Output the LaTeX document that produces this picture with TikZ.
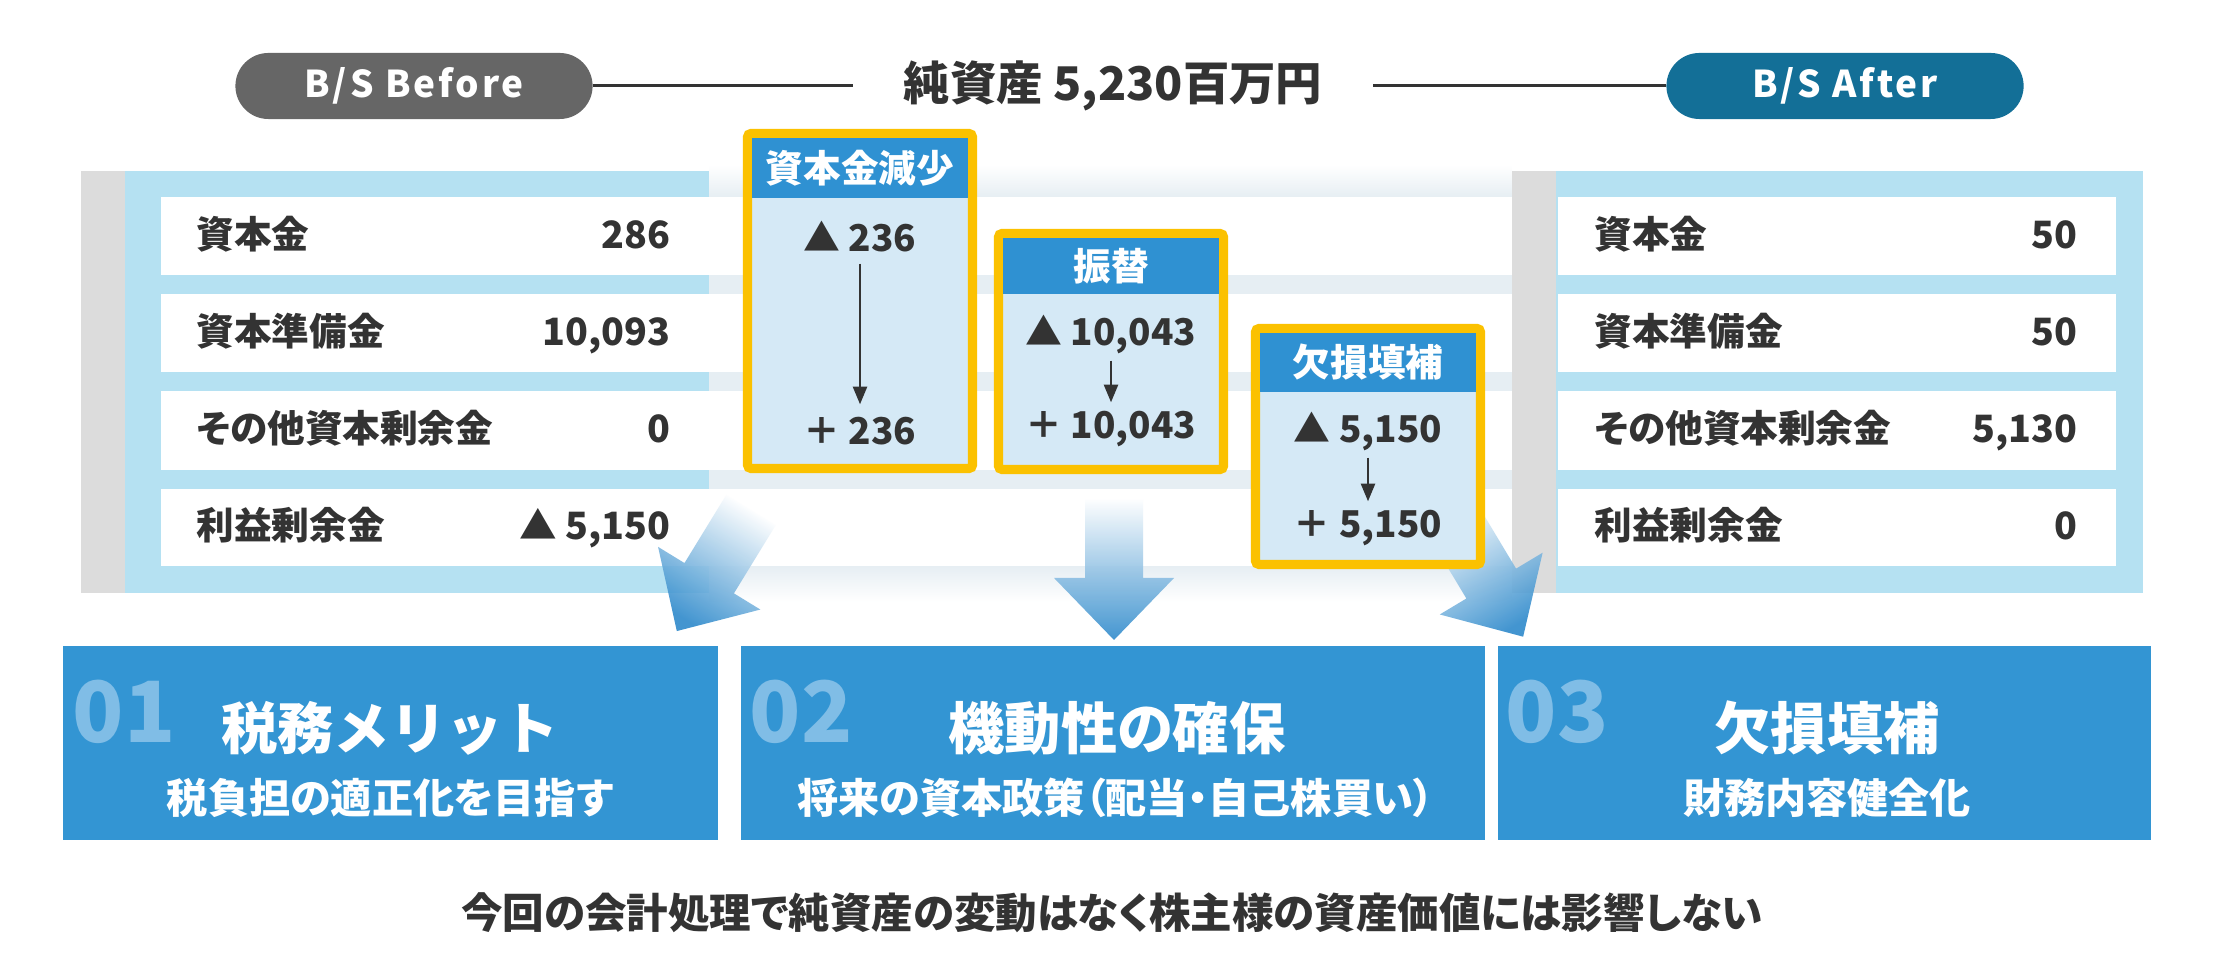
\documentclass[tikz,border=0pt]{standalone}
\usepackage{fontspec}
\setmainfont{Noto Sans CJK JP}[RawFeature=+palt]
\newfontfamily\fullwidth{Noto Sans CJK JP}
\newfontfamily\pillfont{Noto Sans CJK JP}[LetterSpace=8]
\usetikzlibrary{arrows.meta,positioning}

\definecolor{panelblue}{HTML}{B5E1F2}
\definecolor{stripgray}{HTML}{DCDCDC}
\definecolor{midband}{HTML}{E6EEF3}
\definecolor{inktext}{HTML}{333333}
\definecolor{gold}{HTML}{FBC100}
\definecolor{headblue}{HTML}{2F91D2}
\definecolor{bodyblue}{HTML}{D5E9F6}
\definecolor{boxblue}{HTML}{3395D3}
\definecolor{numblue}{HTML}{80BDE6}
\definecolor{pillgray}{HTML}{666666}
\definecolor{pillteal}{HTML}{136F97}
\definecolor{arrowblue}{HTML}{2F8ACB}

\begin{document}
\begin{tikzpicture}[x=0.01cm, y=-0.01cm,
    every node/.style={text=inktext},
    lbl/.style={anchor=base west, inner sep=0pt, font=\fontsize{10.7}{12}\selectfont\bfseries},
    val/.style={anchor=base east, inner sep=0pt, font=\fontsize{10.7}{12}\selectfont\bfseries},
    chghead/.style={text=white, font=\fontsize{10.7}{12}\selectfont\bfseries},
    chgval/.style={inner sep=0pt, minimum height=0.52cm, font=\fontsize{10.5}{12}\selectfont\bfseries},
    flowarrow/.style={draw=inktext, line width=0.6pt, -{Triangle[length=5pt,width=4pt]}},
    pill/.style={rounded corners=0.33cm, minimum width=3.57cm, minimum height=0.66cm, text=white, font=\pillfont\fontsize{10.5}{12}\selectfont\bfseries},
    bigbox/.style={fill=boxblue, inner sep=0pt, minimum height=1.94cm},
    boxnum/.style={text=numblue, font=\fontsize{24}{28}\selectfont\bfseries},
    boxtitle/.style={text=white, font=\fontsize{16}{18}\selectfont\bfseries},
    boxsub/.style={text=white, font=\fontsize{11.7}{14}\selectfont\bfseries}]

    \useasboundingbox (0,0) rectangle (2231,968);

    % header
    \node[pill, fill=pillgray] (before) at (414,86) {B/S Before};
    \node[pill, fill=pillteal] (after) at (1845,86) {B/S After};
    \node[inner xsep=0.5cm, font=\fontsize{13.2}{15}\selectfont\bfseries] (netassets) at (1113,86) {純資産 5,230百万円};
    \draw[inktext, line width=0.85pt] (before) -- (netassets);
    \draw[inktext, line width=0.85pt] (netassets) -- (after);

    % balance sheets
    \fill[stripgray] (81,171) rectangle (125,593);
    \fill[panelblue] (125,171) rectangle (709,593);
    \fill[midband] (709,197) rectangle (1512,566);
    \shade[top color=white, bottom color=midband] (709,165) rectangle (1512,197);
    \shade[top color=midband, bottom color=white] (709,566) rectangle (1512,602);
    \fill[stripgray] (1512,171) rectangle (1556,593);
    \fill[panelblue] (1556,171) rectangle (2143,593);
    \foreach \ya/\yb in {197/275, 294/372, 391/470, 489/566} {
        \fill[white] (161,\ya) rectangle (1512,\yb);
        \fill[white] (1558,\ya) rectangle (2116,\yb);
    }
    \foreach \n/\y/\lab/\old/\new in {1/236/資本金/286/50, 2/333/資本準備金/{10,093}/50,
        3/430/その他資本剰余金/0/{5,130}, 4/527/利益剰余金/{▲ 5,150}/0} {
        \node[lbl] (bl\n) at (196,\y+13) {\lab};
        \node[val] (bv\n) at (671,\y+13) {\old};
        \node[lbl] (al\n) at (1594,\y+13) {\lab};
        \node[val] (av\n) at (2078,\y+13) {\new};
    }

    % big arrows
    \foreach \x/\y/\r/\s in {751/510/238.5/-31.5, 1114/498/270/0, 1450/515/301/31} {
        \shade[top color=white, bottom color=arrowblue, shading angle=\s, opacity=0.9, shift={(\x,\y)}, rotate=\r]
            (0,-29) -- (80,-29) -- (80,-60) -- (142,0) -- (80,60) -- (80,29) -- (0,29) -- cycle;
    }

    % changes
    \filldraw[fill=bodyblue, draw=gold, line width=2.6pt, rounded corners=1pt] (747.5,133.5) rectangle (972.5,468.5);
    \fill[headblue] (752,138) rectangle (968,198);
    \node[chghead] (cut) at (860,168) {資本金減少};
    \node[chgval] (cutfrom) at (860,237) {▲ 236};
    \node[chgval] (cutto) at (860,431) {＋ 236};
    \draw[flowarrow] (cutfrom) -- (cutto);

    \filldraw[fill=bodyblue, draw=gold, line width=2.6pt, rounded corners=1pt] (998.5,233.5) rectangle (1223.5,469.5);
    \fill[headblue] (1003,238) rectangle (1219,294);
    \node[chghead] (swap) at (1111,266) {振替};
    \node[chgval] (swapfrom) at (1111,334) {▲ 10,043};
    \node[chgval] (swapto) at (1111,429) {＋ 10,043};
    \draw[flowarrow] (swapfrom) -- (swapto);

    \filldraw[fill=bodyblue, draw=gold, line width=2.6pt, rounded corners=1pt] (1255.5,328.5) rectangle (1480.5,564.5);
    \fill[headblue] (1260,333) rectangle (1476,392);
    \node[chghead] (fill) at (1368,362) {欠損填補};
    \node[chgval] (fillfrom) at (1368,431) {▲ 5,150};
    \node[chgval] (fillto) at (1368,528) {＋ 5,150};
    \draw[flowarrow] (fillfrom) -- (fillto);

    % effects
    \node[bigbox, minimum width=6.55cm] (box01) at (390.5,743) {};
    \node[bigbox, minimum width=7.44cm] (box02) at (1113,743) {};
    \node[bigbox, minimum width=6.53cm] (box03) at (1824.5,743) {};
    \node[boxnum] (num01) at (124,712) {01};
    \node[boxnum] (num02) at (801,712) {02};
    \node[boxnum] (num03) at (1557,712) {03};
    \node[boxtitle] (title01) at (390,728) {\fullwidth 税務メリット};
    \node[boxtitle] (title02) at (1117,728) {機動性の確保};
    \node[boxtitle] (title03) at (1827,728) {欠損填補};
    \node[boxsub] (sub01) at (390,798) {税負担の適正化を目指す};
    \node[boxsub] (sub02) at (1116,798) {将来の資本政策（配当・自己株買い）};
    \node[boxsub] (sub03) at (1827,798) {財務内容健全化};

    \node[font=\fontsize{11.8}{14}\selectfont\bfseries] (note) at (1112,913) {今回の会計処理で純資産の変動はなく株主様の資産価値には影響しない};
\end{tikzpicture}
\end{document}
